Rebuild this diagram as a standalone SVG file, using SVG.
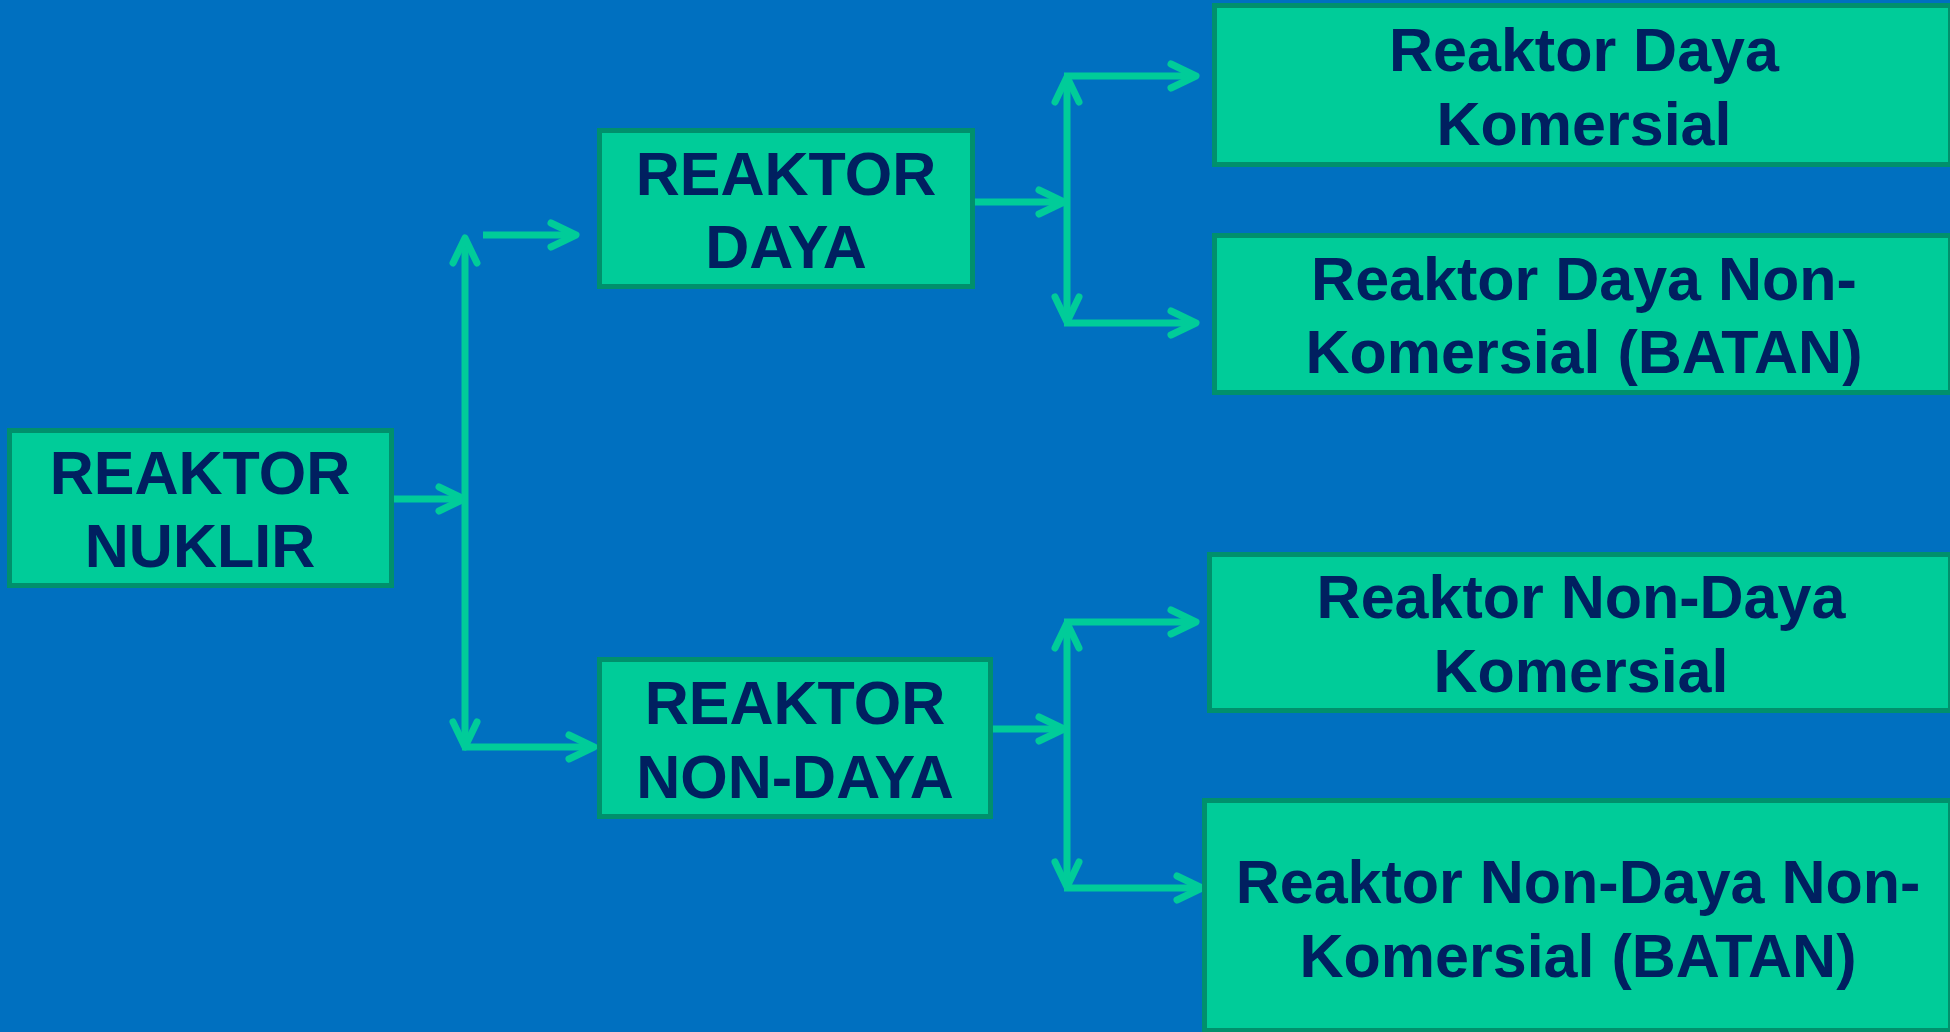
<svg xmlns="http://www.w3.org/2000/svg" width="1950" height="1032" viewBox="0 0 1950 1032">
  <style>
    .box { fill: #00CC99; stroke: #00906C; stroke-width: 5; }
    .lbl { font-family: "Liberation Sans", Arial, sans-serif; font-weight: bold; fill: #002060; text-anchor: middle; }
    .caps { font-size: 61px; }
    .sub { font-size: 61px; }
    .link { fill: none; stroke: #00CC99; stroke-width: 7; marker-end: url(#head); }
    .both { marker-start: url(#head); }
  </style>
  <defs>
    <marker id="head" markerUnits="userSpaceOnUse" viewBox="-32 -16 40 32" markerWidth="40" markerHeight="32" refX="0" refY="0" orient="auto-start-reverse" overflow="visible">
      <path d="M-25,-12 L0,0 L-25,12" fill="none" stroke="#00CC99" stroke-width="7" stroke-linecap="round" stroke-linejoin="round"/>
    </marker>
  </defs>

  <rect width="1950" height="1032" fill="#0070C0"/>

  <g id="connectors">
    <line class="link" x1="394" y1="499" x2="464" y2="499"/>
    <line class="link both" x1="465" y1="747" x2="465" y2="238"/>
    <line class="link" x1="483" y1="235" x2="576" y2="235"/>
    <line class="link" x1="462" y1="747" x2="594" y2="747"/>
    <line class="link" x1="975" y1="202" x2="1064" y2="202"/>
    <line class="link both" x1="1067" y1="322" x2="1067" y2="77"/>
    <line class="link" x1="1064" y1="76" x2="1196" y2="76"/>
    <line class="link" x1="1064" y1="323" x2="1196" y2="323"/>
    <line class="link" x1="993" y1="729" x2="1064" y2="729"/>
    <line class="link both" x1="1067" y1="887" x2="1067" y2="623"/>
    <line class="link" x1="1064" y1="622" x2="1196" y2="622"/>
    <line class="link" x1="1064" y1="888" x2="1202" y2="888"/>
  </g>

  <g id="reaktor-nuklir">
    <rect class="box" x="9.5" y="430.5" width="382" height="155"/>
    <text class="lbl caps" x="200" y="494">REAKTOR</text>
    <text class="lbl caps" x="200" y="567">NUKLIR</text>
  </g>

  <g id="reaktor-daya">
    <rect class="box" x="599.5" y="130.5" width="373" height="156"/>
    <text class="lbl caps" x="786" y="195">REAKTOR</text>
    <text class="lbl caps" x="786" y="268">DAYA</text>
  </g>

  <g id="reaktor-non-daya">
    <rect class="box" x="599.5" y="659.5" width="391" height="157"/>
    <text class="lbl caps" x="795" y="724">REAKTOR</text>
    <text class="lbl caps" x="795" y="798">NON-DAYA</text>
  </g>

  <g id="daya-komersial">
    <rect class="box" x="1214.5" y="5.5" width="736" height="159"/>
    <text class="lbl sub" x="1584" y="71">Reaktor Daya</text>
    <text class="lbl sub" x="1584" y="145">Komersial</text>
  </g>

  <g id="daya-non-komersial">
    <rect class="box" x="1214.5" y="235.5" width="736" height="157"/>
    <text class="lbl sub" x="1584" y="300">Reaktor Daya Non-</text>
    <text class="lbl sub" x="1584" y="373">Komersial (BATAN)</text>
  </g>

  <g id="non-daya-komersial">
    <rect class="box" x="1209.5" y="554.5" width="741" height="156"/>
    <text class="lbl sub" x="1581" y="618">Reaktor Non-Daya</text>
    <text class="lbl sub" x="1581" y="692">Komersial</text>
  </g>

  <g id="non-daya-non-komersial">
    <rect class="box" x="1204.5" y="800.5" width="746" height="230"/>
    <text class="lbl sub" x="1578" y="903">Reaktor Non-Daya Non-</text>
    <text class="lbl sub" x="1578" y="977">Komersial (BATAN)</text>
  </g>
</svg>
